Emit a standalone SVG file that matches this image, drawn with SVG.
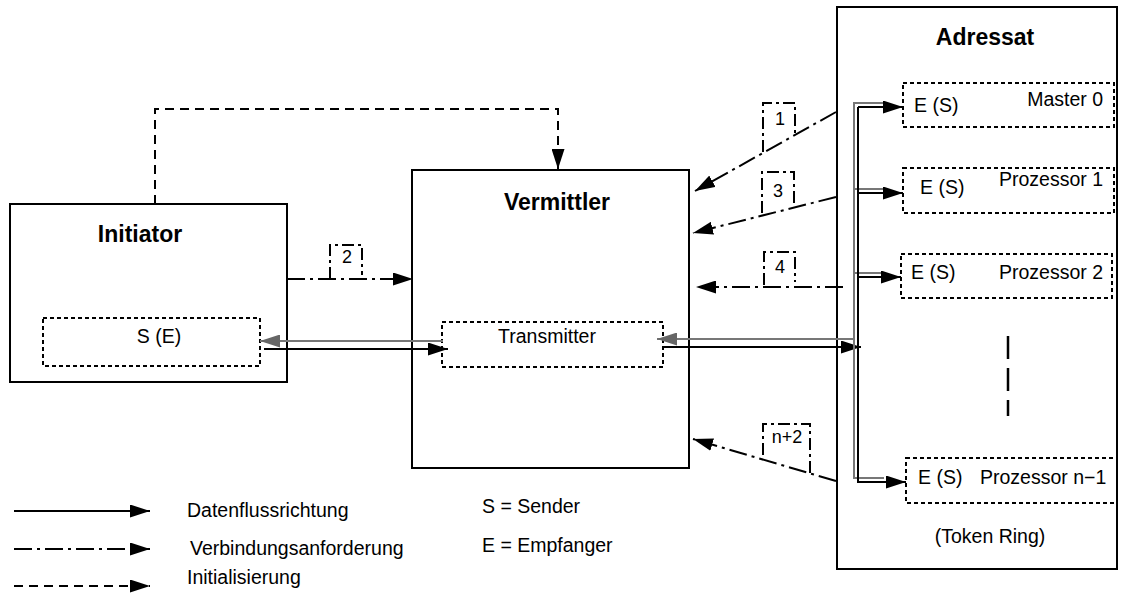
<svg xmlns="http://www.w3.org/2000/svg" width="1122" height="593" viewBox="0 0 1122 593">
  <style>
    .box { fill: #fff; stroke: #000; stroke-width: 2; }
    .dot { fill: none; stroke: #000; stroke-width: 2; stroke-dasharray: 4 3; }
    .title { font-family: "Liberation Sans", Arial, sans-serif; font-size: 23px; font-weight: bold; fill: #000; }
    .lbl { font-family: "Liberation Sans", Arial, sans-serif; font-size: 19.5px; fill: #000; }
    .num { font-family: "Liberation Sans", Arial, sans-serif; font-size: 18px; fill: #000; text-anchor: middle; }
    .solid { fill: none; stroke: #000; stroke-width: 2; }
    .grey { fill: none; stroke: #777; stroke-width: 2; }
    .req { fill: none; stroke: #000; stroke-width: 2; stroke-dasharray: 18 5 3 5; }
    .tag { fill: none; stroke: #000; stroke-width: 2; stroke-dasharray: 12 4 3 4; }
    .init { fill: none; stroke: #000; stroke-width: 2; stroke-dasharray: 9 6; }
  </style>
  <defs>
    <marker id="ah" markerUnits="userSpaceOnUse" markerWidth="20" markerHeight="13" refX="20" refY="6.5" orient="auto">
      <path d="M0,0 L20,6.5 L0,13 z" fill="#000"/>
    </marker>
    <marker id="ahg" markerUnits="userSpaceOnUse" markerWidth="20" markerHeight="13" refX="20" refY="6.5" orient="auto">
      <path d="M0,0 L20,6.5 L0,13 z" fill="#666"/>
    </marker>
  </defs>

  <rect width="1122" height="593" fill="#fff"/>

  <!-- Initiator -->
  <g id="initiator">
    <rect class="box" x="10" y="204" width="277" height="178"/>
    <text class="title" x="140" y="242" text-anchor="middle">Initiator</text>
    <rect class="dot" x="43" y="318" width="217" height="48"/>
    <text class="lbl" x="159" y="343" text-anchor="middle">S (E)</text>
  </g>

  <!-- Vermittler -->
  <g id="vermittler">
    <rect class="box" x="412" y="170" width="277" height="298"/>
    <text class="title" x="557" y="210" text-anchor="middle">Vermittler</text>
    <rect class="dot" x="442" y="322" width="221" height="45"/>
    <text class="lbl" x="547" y="343" text-anchor="middle">Transmitter</text>
  </g>

  <!-- Adressat -->
  <g id="adressat">
    <rect class="box" x="837" y="7" width="280" height="562"/>
    <text class="title" x="985" y="45" text-anchor="middle">Adressat</text>
    <text class="lbl" x="990" y="543" text-anchor="middle">(Token Ring)</text>
    <line x1="1008" y1="336" x2="1008" y2="416" stroke="#000" stroke-width="2.5" stroke-dasharray="23 9"/>
  </g>

  <g id="master0">
    <rect class="dot" x="903" y="83" width="211" height="44"/>
    <text class="lbl" x="914" y="112">E (S)</text>
    <text class="lbl" x="1103" y="106" text-anchor="end">Master 0</text>
  </g>
  <g id="prozessor1">
    <rect class="dot" x="903" y="168" width="211" height="45"/>
    <text class="lbl" x="920" y="194">E (S)</text>
    <text class="lbl" x="1103" y="186" text-anchor="end">Prozessor 1</text>
  </g>
  <g id="prozessor2">
    <rect class="dot" x="901" y="254" width="211" height="44"/>
    <text class="lbl" x="911" y="279">E (S)</text>
    <text class="lbl" x="1103" y="279" text-anchor="end">Prozessor 2</text>
  </g>
  <g id="prozessor-n1">
    <rect class="dot" x="906" y="458" width="211" height="45"/>
    <text class="lbl" x="918" y="484">E (S)</text>
    <text class="lbl" x="980" y="484">Prozessor n−1</text>
  </g>

  <!-- connectors -->
  <g id="connectors">
    <!-- initialisation -->
    <path class="init" d="M155,204 V109 H558 V169" marker-end="url(#ah)"/>

    <!-- Initiator <-> Transmitter -->
    <line class="grey" x1="443" y1="341" x2="260" y2="341" marker-end="url(#ahg)"/>
    <line class="solid" x1="264" y1="349" x2="448" y2="349" marker-end="url(#ah)"/>

    <!-- Transmitter <-> ring bus -->
    <line class="grey" x1="855" y1="339" x2="657" y2="339" marker-end="url(#ahg)"/>
    <line class="solid" x1="663" y1="347" x2="861" y2="347" marker-end="url(#ah)"/>

    <!-- ring bus: grey and black rails with branches -->
    <path class="grey" d="M884,103 H854 V478 H884 M854,189 H884 M854,273 H884"/>
    <line class="solid" x1="858" y1="107" x2="858" y2="482"/>
    <line class="solid" x1="858" y1="107" x2="903" y2="107" marker-end="url(#ah)"/>
    <line class="solid" x1="858" y1="193" x2="903" y2="193" marker-end="url(#ah)"/>
    <line class="solid" x1="858" y1="277" x2="901" y2="277" marker-end="url(#ah)"/>
    <line class="solid" x1="857" y1="482" x2="906" y2="482" marker-end="url(#ah)"/>

    <!-- connection requests -->
    <line class="req" x1="287" y1="279" x2="413" y2="279" marker-end="url(#ah)"/>
    <path class="tag" d="M330,279 V245 H362 V275"/>
    <text class="num" x="347" y="263">2</text>

    <line class="req" x1="836" y1="112" x2="695" y2="191" marker-end="url(#ah)"/>
    <path class="tag" d="M763,152 V103 H795 V135"/>
    <text class="num" x="780" y="125">1</text>

    <line class="req" x1="836" y1="197" x2="693" y2="233" marker-end="url(#ah)"/>
    <path class="tag" d="M762,213 V172 H794 V206"/>
    <text class="num" x="778" y="197">3</text>

    <line class="req" x1="843" y1="287" x2="696" y2="287" marker-end="url(#ah)"/>
    <path class="tag" d="M764,285 V252 H795 V282"/>
    <text class="num" x="780" y="273">4</text>

    <line class="req" x1="836" y1="481" x2="693" y2="439" marker-end="url(#ah)"/>
    <path class="tag" d="M763,455 V424 H810 V473"/>
    <text class="num" x="787" y="443">n+2</text>
  </g>

  <!-- legend -->
  <g id="legend">
    <line class="solid" x1="14" y1="511" x2="150" y2="511" marker-end="url(#ah)"/>
    <line class="req" x1="14" y1="549" x2="150" y2="549" marker-end="url(#ah)"/>
    <line class="init" x1="14" y1="586" x2="150" y2="586" marker-end="url(#ah)"/>
    <text class="lbl" x="187" y="517">Datenflussrichtung</text>
    <text class="lbl" x="190" y="555">Verbindungsanforderung</text>
    <text class="lbl" x="187" y="584">Initialisierung</text>
    <text class="lbl" x="482" y="513">S = Sender</text>
    <text class="lbl" x="482" y="552">E = Empfanger</text>
  </g>
</svg>
